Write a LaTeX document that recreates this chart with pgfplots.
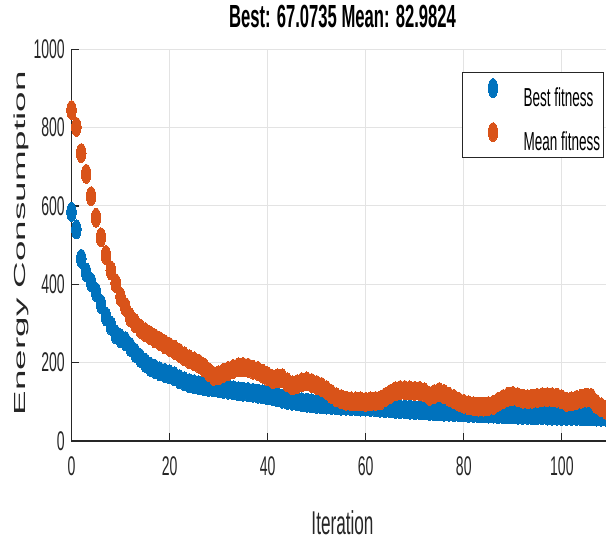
\documentclass[border=0pt]{standalone}
\usepackage{fontspec}
\setmainfont{Liberation Sans}[FakeStretch=0.52]
\newfontfamily\ylfont{Liberation Sans}[FakeStretch=2.3]
\usepackage{pgfplots}
\usepackage{pgfplotstable}
\pgfplotsset{compat=1.18}
\definecolor{mblue}{rgb}{0,0.447,0.741}
\definecolor{morange}{rgb}{0.85,0.325,0.098}
\definecolor{axgray}{rgb}{0.15,0.15,0.15}
\definecolor{gridgray}{rgb}{0.89,0.89,0.89}

\pgfplotstableread{
x best mean
0 585 845
1 540 802
2 465 735
3 430 682
4 405 625
5 380 570
6 350 520
7 318 475
8 295 436
9 272 403
10 262 368
11 255 342
12 240 315
13 225 300
14 212 287
15 200 278
16 190 270
17 184 262
18 178 255
19 174 247
20 170 240
21 165 233
22 158 225
23 152 216
24 148 209
25 145 203
26 142 197
27 140 188
28 138 176
29 137 166
30 135 168
31 133 174
32 131 179
33 129 184
34 127 188
35 126 189
36 125 187
37 123 182
38 121 179
39 119 172
40 117 165
41 115 158
42 112 160
43 108 160
44 105 150
45 103 142
46 101 145
47 99 150
48 98 152
49 96 148
50 95 143
51 94 138
52 93 130
53 92 120
54 91 112
55 90 107
56 90 103
57 89 101
58 89 101
59 88 101
60 88 100
61 87 101
62 86 102
63 85 104
64 84 112
65 83 120
66 82 127
67 81 130
68 81 130
69 80 129
70 79 128
71 79 128
72 78 124
73 77 115
74 76 120
75 76 125
76 75 120
77 75 113
78 74 107
79 74 100
80 73 95
81 72 91
82 72 89
83 71 88
84 71 88
85 70 89
86 70 92
87 69 100
88 69 107
89 68 113
90 68 115
91 67 112
92 67 108
93 67 107
94 66 108
95 66 110
96 66 112
97 65 112
98 65 112
99 65 111
100 64 106
101 64 100
102 64 101
103 64 105
104 63 108
105 63 111
106 63 110
107 62.5 95
108 62.2 86
109 62 80
}\datatable

\begin{document}
\begin{tikzpicture}
\useasboundingbox (-71.5pt,-101pt) rectangle (534.5pt,441pt);
\begin{axis}[
  at={(0pt,0pt)}, anchor=south west,
  scale only axis, width=534.5pt, height=391.7pt,
  xmin=0, xmax=109, ymin=0, ymax=1000,
  axis lines=left,
  axis line style={-, draw=axgray, line width=1.3pt},
  xtick={0,20,...,100}, ytick={0,200,...,1000},
  tick align=inside, major tick length=8pt,
  tick style={draw=axgray, line width=1.2pt},
  grid=major, grid style={draw=gridgray, line width=1pt},
  clip=false,
  /pgf/number format/assume math mode=true,
  /pgf/number format/1000 sep={},
  ticklabel style={font=\fontsize{27}{29}\selectfont, text=axgray},
  xticklabel style={anchor=north, inner sep=0pt, yshift=-15pt},
  yticklabel style={anchor=east, inner sep=0pt, xshift=-6.5pt},
  xlabel={Iteration},
  xlabel style={at={(axis description cs:0.507,-0.177)}, anchor=north, inner sep=0pt,
    font=\fontsize{33}{35}\selectfont, text=axgray},
  ylabel={\ylfont Energy Consumption},
  ylabel style={at={(axis description cs:-0.0945,0.505)}, anchor=center, inner sep=0pt,
    font=\fontsize{16}{18}\selectfont, text=axgray},
  title={Best: 67.0735 Mean: 82.9824},
  title style={at={(axis description cs:0.507,1.098)}, anchor=north, inner sep=0pt,
    font=\bfseries\fontsize{32}{34}\selectfont},
  legend style={at={(axis description cs:0.7306,0.942)}, anchor=north west,
    draw=axgray, line width=1pt, fill=white,
    font=\fontsize{26}{28}\selectfont, text=black,
    inner xsep=3pt, inner ysep=6pt, row sep=15pt, column sep=3pt,
    nodes={inner sep=0pt}},
  legend cell align=left,
  mymark/.style={only marks, mark=*, mark size=9.5pt,
    mark options={xscale=0.5, line width=0pt},
    legend image code/.code={\path (-27pt,0pt) (27pt,0pt); \draw[##1] plot coordinates {(0pt,9.5pt)};}},
]
\addplot[mymark, color=mblue, fill=mblue] table[x=x, y=best] {\datatable};
\addplot[mymark, color=morange, fill=morange] table[x=x, y=mean] {\datatable};
\legend{Best fitness, Mean fitness}
\end{axis}
\end{tikzpicture}
\end{document}
